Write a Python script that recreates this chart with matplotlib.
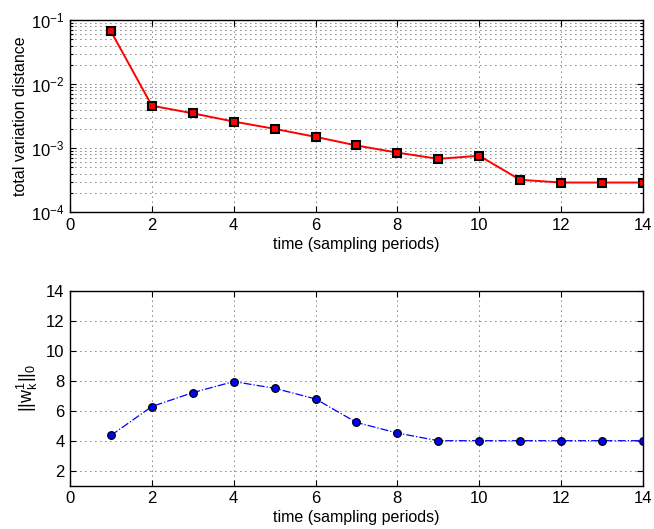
import numpy as np
import matplotlib
matplotlib.use("Agg")
import matplotlib.pyplot as plt

plt.rcParams["font.family"] = ["Liberation Sans", "DejaVu Sans"]
plt.rcParams["mathtext.fontset"] = "custom"
plt.rcParams["mathtext.rm"] = "Liberation Sans"
plt.rcParams["mathtext.it"] = "Liberation Sans"
plt.rcParams["mathtext.bf"] = "Liberation Sans:bold"

t = np.arange(1, 15)
tv_dist = [0.067, 0.0046, 0.0035, 0.0026, 0.0020, 0.0015, 0.0011,
           0.00085, 0.00068, 0.00076, 0.00032, 0.00029, 0.00029, 0.00029]
w_norm = [4.35, 6.28, 7.21, 7.95, 7.5, 6.79, 5.22, 4.51, 4, 4, 4, 4, 4, 4]
xticks = [0, 2, 4, 6, 8, 10, 12, 14]

fig = plt.figure(figsize=(6.54, 5.29), dpi=100)
ax1 = fig.add_axes([0.107, 0.599, 0.876, 0.363])
ax2 = fig.add_axes([0.107, 0.082, 0.876, 0.368])

dots = (0, (1, 5))


def matlab_style(ax):
    ax.tick_params(which="both", direction="in", top=True, right=True,
                   labelsize=12, length=4, width=0.8, pad=4)
    ax.tick_params(which="minor", length=2)
    for s in ax.spines.values():
        s.set_linewidth(1.0)
    ax.set_axisbelow(True)


# top: total variation distance on log scale
ax1.semilogy(t, tv_dist, "-s", color="red", lw=1.4, ms=5.5,
             mfc="red", mec="black", mew=1.5)
ax1.set_xlim(0, 14)
ax1.set_ylim(1e-4, 1e-1)
ax1.set_xticks(xticks)
ax1.grid(True, which="major", ls=dots, color="black", lw=0.6)
ax1.grid(True, which="minor", axis="y", ls=dots, color="black", lw=0.6)
ax1.set_xlabel("time (sampling periods)", fontsize=11.5, labelpad=3)
ax1.set_ylabel("total variation distance", fontsize=11.5, labelpad=2)
matlab_style(ax1)

# bottom: sparsity of the weight vector
ax2.plot(t, w_norm, "-.o", color="blue", lw=0.9, ms=5.5,
         mfc="blue", mec="black", mew=0.9)
ax2.set_xlim(0, 14)
ax2.set_ylim(1, 14)
ax2.set_xticks(xticks)
ax2.set_yticks([2, 4, 6, 8, 10, 12, 14])
ax2.grid(True, ls=dots, color="black", lw=0.6)
ax2.set_xlabel("time (sampling periods)", fontsize=11.5, labelpad=3)
ax2.set_ylabel(r"$\mathregular{||w_k^1||_0}$", fontsize=13, labelpad=4)
matlab_style(ax2)

fig.savefig("out.png", dpi=100)
